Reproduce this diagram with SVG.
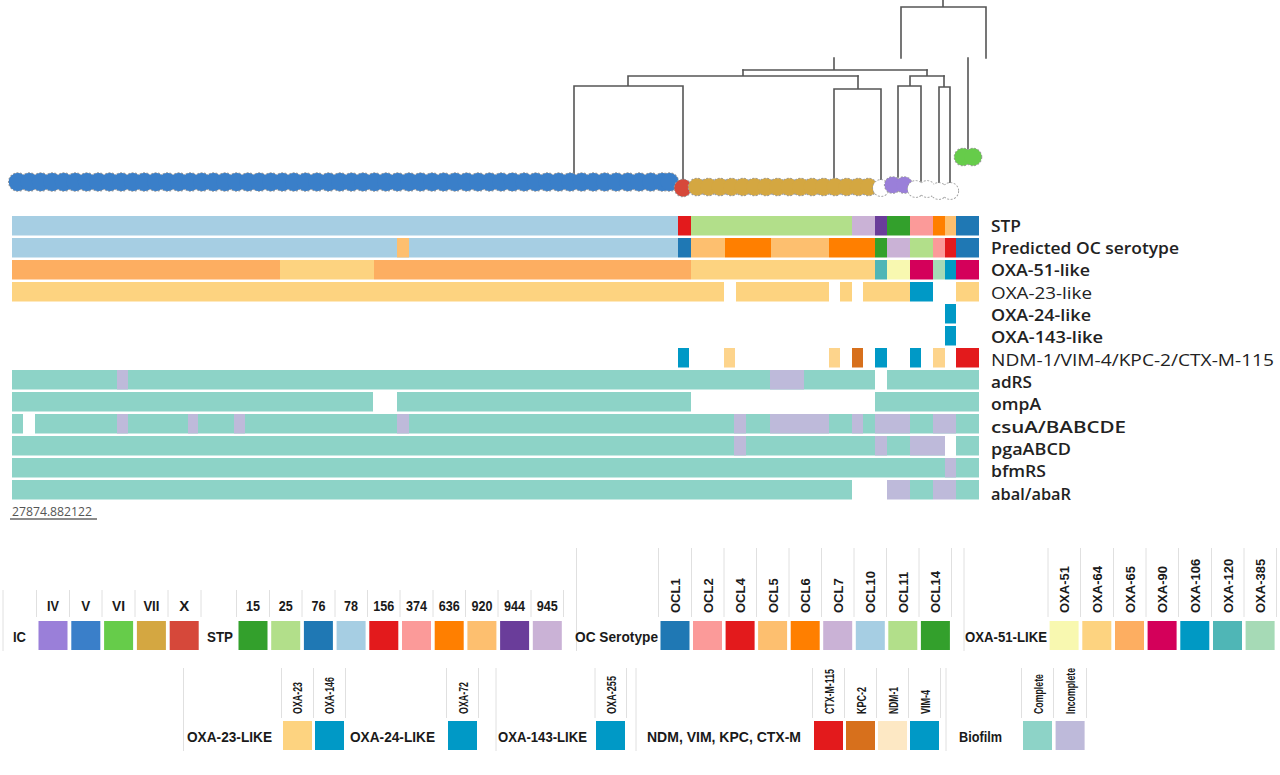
<svg xmlns="http://www.w3.org/2000/svg" width="1280" height="775" viewBox="0 0 1280 775">
<style>
.br{stroke:#555;stroke-width:1.6;fill:none;stroke-linecap:square}
.tipo{stroke:#9c9c9c;stroke-width:1.6;stroke-dasharray:2 1.4}
.lbl{font-family:"Open Sans","Noto Sans",sans-serif;font-size:16px;font-weight:600;fill:#222}
.lbn{font-family:"Open Sans","Noto Sans",sans-serif;font-size:16px;font-weight:400;fill:#222}
.sc{font-family:"Open Sans","Noto Sans",sans-serif;font-size:13px;fill:#555}
.lg{font-family:"Liberation Sans",Arial,sans-serif;font-size:15px;font-weight:bold;fill:#1a1a1a}
.hd{font-family:"Liberation Sans",Arial,sans-serif;font-size:13px;font-weight:bold;fill:#1a1a1a}
.hh{font-family:"Liberation Sans",Arial,sans-serif;font-size:15px;font-weight:bold;fill:#1a1a1a;text-anchor:middle}
.sep{stroke:#e0e0e0;stroke-width:1}
</style>
<defs>
<g id="cBlue">
<circle cx="17.8" cy="182" r="9"/><circle cx="29.3" cy="182" r="9"/><circle cx="40.8" cy="182" r="9"/><circle cx="52.3" cy="182" r="9"/><circle cx="63.8" cy="182" r="9"/><circle cx="75.3" cy="182" r="9"/><circle cx="86.8" cy="182" r="9"/><circle cx="98.3" cy="182" r="9"/><circle cx="109.8" cy="182" r="9"/><circle cx="121.4" cy="182" r="9"/>
<circle cx="132.9" cy="182" r="9"/><circle cx="144.4" cy="182" r="9"/><circle cx="155.9" cy="182" r="9"/><circle cx="167.4" cy="182" r="9"/><circle cx="178.9" cy="182" r="9"/><circle cx="190.4" cy="182" r="9"/><circle cx="201.9" cy="182" r="9"/><circle cx="213.5" cy="182" r="9"/><circle cx="225" cy="182" r="9"/><circle cx="236.5" cy="182" r="9"/>
<circle cx="248" cy="182" r="9"/><circle cx="259.5" cy="182" r="9"/><circle cx="271" cy="182" r="9"/><circle cx="282.5" cy="182" r="9"/><circle cx="294" cy="182" r="9"/><circle cx="305.6" cy="182" r="9"/><circle cx="317.1" cy="182" r="9"/><circle cx="328.6" cy="182" r="9"/><circle cx="340.1" cy="182" r="9"/><circle cx="351.6" cy="182" r="9"/>
<circle cx="363.1" cy="182" r="9"/><circle cx="374.6" cy="182" r="9"/><circle cx="386.1" cy="182" r="9"/><circle cx="397.7" cy="182" r="9"/><circle cx="409.2" cy="182" r="9"/><circle cx="420.7" cy="182" r="9"/><circle cx="432.2" cy="182" r="9"/><circle cx="443.7" cy="182" r="9"/><circle cx="455.2" cy="182" r="9"/><circle cx="466.7" cy="182" r="9"/>
<circle cx="478.2" cy="182" r="9"/><circle cx="489.7" cy="182" r="9"/><circle cx="501.3" cy="182" r="9"/><circle cx="512.8" cy="182" r="9"/><circle cx="524.3" cy="182" r="9"/><circle cx="535.8" cy="182" r="9"/><circle cx="547.3" cy="182" r="9"/><circle cx="558.8" cy="182" r="9"/><circle cx="570.3" cy="182" r="9"/><circle cx="581.8" cy="182" r="9"/>
<circle cx="593.4" cy="182" r="9"/><circle cx="604.9" cy="182" r="9"/><circle cx="616.4" cy="182" r="9"/><circle cx="627.9" cy="182" r="9"/><circle cx="639.4" cy="182" r="9"/><circle cx="650.9" cy="182" r="9"/><circle cx="662.4" cy="182" r="9"/><circle cx="669.5" cy="182" r="9"/>
</g>
<g id="cRed"><circle cx="683" cy="188" r="8.5"/></g>
<g id="cGold">
<circle cx="697" cy="187" r="8.5"/><circle cx="708.5" cy="187" r="8.5"/><circle cx="720" cy="187" r="8.5"/><circle cx="731.5" cy="187" r="8.5"/><circle cx="743" cy="187" r="8.5"/><circle cx="754.6" cy="187" r="8.5"/><circle cx="766.1" cy="187" r="8.5"/><circle cx="777.6" cy="187" r="8.5"/>
<circle cx="789.1" cy="187" r="8.5"/><circle cx="800.6" cy="187" r="8.5"/><circle cx="812.1" cy="187" r="8.5"/><circle cx="823.6" cy="187" r="8.5"/><circle cx="835.1" cy="187" r="8.5"/><circle cx="846.7" cy="187" r="8.5"/><circle cx="858.2" cy="187" r="8.5"/><circle cx="868.5" cy="187" r="8.5"/>
</g>
<g id="cW1"><circle cx="881" cy="188" r="8"/></g>
<g id="cPurple"><circle cx="892.7" cy="185" r="8"/><circle cx="904.2" cy="185" r="8"/></g>
<g id="cW2"><circle cx="915.7" cy="189" r="8"/><circle cx="927.2" cy="189" r="8"/><circle cx="938.7" cy="191" r="8"/><circle cx="950.3" cy="191" r="8"/></g>
<g id="cGreen"><circle cx="963" cy="157" r="8.5"/><circle cx="973" cy="157" r="8.5"/></g>
</defs>

<g id="connectors">
<path class="br" d="M943,0V7 M901,58V7H986V58 M968,58V150"/>
<path class="br" d="M834,58V70 M743,70H927"/>
<path class="br" d="M743,70V76 M628,76H858 M628,76V86 M574,86H683 M574,86V174 M683,86V180"/>
<path class="br" d="M858,76V89 M834,89H881 M834,89V179 M881,89V180"/>
<path class="br" d="M927,70V76 M910,76H944 M910,76V86 M898,86H921 M898,86V177 M921,86V181"/>
<path class="br" d="M944,76V87 M939,87H950 M939,87V183 M950,87V183"/>
</g>

<g id="tips">
<g id="tips-blue"><use href="#cBlue" class="tipo" fill="#3a7fc9"/><use href="#cBlue" fill="#3a7fc9"/></g>
<g id="tips-red"><use href="#cRed" class="tipo" fill="#d6483a"/><use href="#cRed" fill="#d6483a"/></g>
<g id="tips-gold"><use href="#cGold" class="tipo" fill="#d4a741"/><use href="#cGold" fill="#d4a741"/></g>
<g id="tips-none-1"><use href="#cW1" class="tipo" fill="#fff"/><use href="#cW1" fill="#fff"/></g>
<g id="tips-purple"><use href="#cPurple" class="tipo" fill="#9a7fd9"/><use href="#cPurple" fill="#9a7fd9"/></g>
<g id="tips-none-2"><use href="#cW2" class="tipo" fill="#fff"/><use href="#cW2" fill="#fff"/></g>
<g id="tips-green"><use href="#cGreen" class="tipo" fill="#66cc4a"/><use href="#cGreen" fill="#66cc4a"/></g>
</g>

<g id="row-stp">
<rect x="12" y="216" width="666" height="19.5" fill="#a6cee3"/>
<rect x="678" y="216" width="13" height="19.5" fill="#e31a1c"/>
<rect x="691" y="216" width="161" height="19.5" fill="#b2df8a"/>
<rect x="852" y="216" width="23" height="19.5" fill="#cab2d6"/>
<rect x="875" y="216" width="12" height="19.5" fill="#6a3d9a"/>
<rect x="887" y="216" width="23" height="19.5" fill="#33a02c"/>
<rect x="910" y="216" width="23" height="19.5" fill="#fb9a99"/>
<rect x="933" y="216" width="12" height="19.5" fill="#ff7f00"/>
<rect x="945" y="216" width="11" height="19.5" fill="#fdbf6f"/>
<rect x="956" y="216" width="23" height="19.5" fill="#1f78b4"/>
<text class="lbl" x="991" y="231.5" textLength="30" lengthAdjust="spacingAndGlyphs">STP</text>
</g>
<g id="row-oc">
<rect x="12" y="238" width="666" height="19.5" fill="#a6cee3"/>
<rect x="397" y="238" width="12" height="19.5" fill="#fdbf6f"/>
<rect x="678" y="238" width="13" height="19.5" fill="#1f78b4"/>
<rect x="691" y="238" width="34" height="19.5" fill="#fdbf6f"/>
<rect x="725" y="238" width="46" height="19.5" fill="#ff7f00"/>
<rect x="771" y="238" width="58" height="19.5" fill="#fdbf6f"/>
<rect x="829" y="238" width="46" height="19.5" fill="#ff7f00"/>
<rect x="875" y="238" width="12" height="19.5" fill="#33a02c"/>
<rect x="887" y="238" width="23" height="19.5" fill="#cab2d6"/>
<rect x="910" y="238" width="23" height="19.5" fill="#b2df8a"/>
<rect x="933" y="238" width="12" height="19.5" fill="#fb9a99"/>
<rect x="945" y="238" width="11" height="19.5" fill="#e31a1c"/>
<rect x="956" y="238" width="23" height="19.5" fill="#1f78b4"/>
<text class="lbl" x="991" y="253.8" textLength="188" lengthAdjust="spacingAndGlyphs">Predicted OC serotype</text>
</g>
<g id="row-oxa51">
<rect x="12" y="260" width="268" height="19.5" fill="#fdae61"/>
<rect x="280" y="260" width="94" height="19.5" fill="#fdd380"/>
<rect x="374" y="260" width="317" height="19.5" fill="#fdae61"/>
<rect x="691" y="260" width="184" height="19.5" fill="#fdd380"/>
<rect x="875" y="260" width="12" height="19.5" fill="#4fb6b6"/>
<rect x="887" y="260" width="23" height="19.5" fill="#f8f8b0"/>
<rect x="910" y="260" width="23" height="19.5" fill="#d4005a"/>
<rect x="933" y="260" width="12" height="19.5" fill="#a6dab6"/>
<rect x="945" y="260" width="11" height="19.5" fill="#0099c4"/>
<rect x="956" y="260" width="23" height="19.5" fill="#d4005a"/>
<text class="lbl" x="991" y="276.2" textLength="99" lengthAdjust="spacingAndGlyphs">OXA-51-like</text>
</g>
<g id="row-oxa23" fill="#fdd380">
<rect x="12" y="282" width="712" height="19.5"/>
<rect x="736" y="282" width="93" height="19.5"/>
<rect x="840" y="282" width="12" height="19.5"/>
<rect x="863" y="282" width="47" height="19.5"/>
<rect x="910" y="282" width="23" height="19.5" fill="#0099c6"/>
<rect x="956" y="282" width="23" height="19.5"/>
<text class="lbn" x="991" y="298.5" textLength="101" lengthAdjust="spacingAndGlyphs">OXA-23-like</text>
</g>
<g id="row-oxa24">
<rect x="945" y="304" width="11" height="19.5" fill="#0099c6"/>
<text class="lbl" x="991" y="320.8" textLength="100" lengthAdjust="spacingAndGlyphs">OXA-24-like</text>
</g>
<g id="row-oxa143">
<rect x="945" y="326" width="11" height="19.5" fill="#0099c6"/>
<text class="lbl" x="991" y="343.2" textLength="112" lengthAdjust="spacingAndGlyphs">OXA-143-like</text>
</g>
<g id="row-ndm">
<rect x="678" y="348" width="11" height="19.5" fill="#0099c6"/>
<rect x="724" y="348" width="11" height="19.5" fill="#fdd48c"/>
<rect x="829" y="348" width="11" height="19.5" fill="#fdd48c"/>
<rect x="852" y="348" width="11" height="19.5" fill="#d7701c"/>
<rect x="875" y="348" width="12" height="19.5" fill="#0099c6"/>
<rect x="910" y="348" width="11" height="19.5" fill="#0099c6"/>
<rect x="933" y="348" width="12" height="19.5" fill="#fdd48c"/>
<rect x="956" y="348" width="23" height="19.5" fill="#e31a1c"/>
<text class="lbn" x="991" y="365.5" textLength="283" lengthAdjust="spacingAndGlyphs">NDM-1/VIM-4/KPC-2/CTX-M-115</text>
</g>
<g id="row-adrs">
<rect x="12" y="370" width="863" height="19.5" fill="#8dd3c7"/>
<rect x="887" y="370" width="92" height="19.5" fill="#8dd3c7"/>
<rect x="117" y="370" width="11" height="19.5" fill="#bebada"/>
<rect x="770" y="370" width="34" height="19.5" fill="#bebada"/>
<text class="lbl" x="991" y="387.8" textLength="41" lengthAdjust="spacingAndGlyphs">adRS</text>
</g>
<g id="row-ompa" fill="#8dd3c7">
<rect x="12" y="392" width="361" height="19.5"/>
<rect x="397" y="392" width="294" height="19.5"/>
<rect x="875" y="392" width="104" height="19.5"/>
<text class="lbl" x="991" y="410.1" textLength="50" lengthAdjust="spacingAndGlyphs">ompA</text>
</g>
<g id="row-csua">
<rect x="12" y="414" width="11" height="19.5" fill="#8dd3c7"/>
<rect x="35" y="414" width="944" height="19.5" fill="#8dd3c7"/>
<g fill="#bebada">
<rect x="117" y="414" width="11" height="19.5"/>
<rect x="188" y="414" width="10" height="19.5"/>
<rect x="234" y="414" width="11" height="19.5"/>
<rect x="397" y="414" width="12" height="19.5"/>
<rect x="734" y="414" width="12" height="19.5"/>
<rect x="770" y="414" width="59" height="19.5"/>
<rect x="852" y="414" width="11" height="19.5"/>
<rect x="875" y="414" width="35" height="19.5"/>
<rect x="933" y="414" width="23" height="19.5"/>
</g>
<text class="lbl" x="991" y="432.5" textLength="135" lengthAdjust="spacingAndGlyphs">csuA/BABCDE</text>
</g>
<g id="row-pga">
<rect x="12" y="436" width="933" height="19.5" fill="#8dd3c7"/>
<rect x="956" y="436" width="23" height="19.5" fill="#8dd3c7"/>
<g fill="#bebada">
<rect x="734" y="436" width="12" height="19.5"/>
<rect x="875" y="436" width="12" height="19.5"/>
<rect x="910" y="436" width="35" height="19.5"/>
</g>
<text class="lbl" x="991" y="454.8" textLength="80" lengthAdjust="spacingAndGlyphs">pgaABCD</text>
</g>
<g id="row-bfm">
<rect x="12" y="458" width="967" height="19.5" fill="#8dd3c7"/>
<rect x="945" y="458" width="11" height="19.5" fill="#bebada"/>
<text class="lbl" x="991" y="477.1" textLength="55" lengthAdjust="spacingAndGlyphs">bfmRS</text>
</g>
<g id="row-aba">
<rect x="12" y="480" width="840" height="19.5" fill="#8dd3c7"/>
<rect x="887" y="480" width="23" height="19.5" fill="#bebada"/>
<rect x="910" y="480" width="23" height="19.5" fill="#8dd3c7"/>
<rect x="933" y="480" width="23" height="19.5" fill="#bebada"/>
<rect x="956" y="480" width="23" height="19.5" fill="#8dd3c7"/>
<text class="lbl" x="991" y="499.5" textLength="80" lengthAdjust="spacingAndGlyphs">abaI/abaR</text>
</g>

<g id="scale">
<text class="sc" x="12" y="515.5" textLength="80" lengthAdjust="spacingAndGlyphs">27874.882122</text>
<line x1="10" y1="519" x2="97" y2="519" stroke="#666" stroke-width="1.5"/>
</g>

<g id="legend-ic">
<g class="sep"><line x1="3" y1="590" x2="3" y2="651"/><line x1="36.5" y1="590" x2="36.5" y2="617"/><line x1="69.5" y1="590" x2="69.5" y2="617"/><line x1="102" y1="590" x2="102" y2="617"/><line x1="135" y1="590" x2="135" y2="617"/><line x1="168" y1="590" x2="168" y2="617"/><line x1="201" y1="590" x2="201" y2="617"/></g>
<text class="lg" x="13" y="642" textLength="13" lengthAdjust="spacingAndGlyphs">IC</text>
<g class="hh"><text x="53" y="611" textLength="12" lengthAdjust="spacingAndGlyphs">IV</text><text x="85.8" y="611" textLength="9" lengthAdjust="spacingAndGlyphs">V</text><text x="118.6" y="611" textLength="13" lengthAdjust="spacingAndGlyphs">VI</text><text x="151.4" y="611" textLength="16" lengthAdjust="spacingAndGlyphs">VII</text><text x="184.2" y="611" textLength="10" lengthAdjust="spacingAndGlyphs">X</text></g>
<rect x="38.5" y="621" width="29" height="29" fill="#9a7fd9"/>
<rect x="71.3" y="621" width="29" height="29" fill="#3a7fc9"/>
<rect x="104.1" y="621" width="29" height="29" fill="#66cc4a"/>
<rect x="136.9" y="621" width="29" height="29" fill="#d4a741"/>
<rect x="169.7" y="621" width="29" height="29" fill="#d6483a"/>
</g>

<g id="legend-stp">
<g class="sep"><line x1="236.5" y1="590" x2="236.5" y2="617"/><line x1="269.5" y1="590" x2="269.5" y2="617"/><line x1="302" y1="590" x2="302" y2="617"/><line x1="335" y1="590" x2="335" y2="617"/><line x1="367.5" y1="590" x2="367.5" y2="617"/><line x1="400" y1="590" x2="400" y2="617"/><line x1="433" y1="590" x2="433" y2="617"/><line x1="465.5" y1="590" x2="465.5" y2="617"/><line x1="498" y1="590" x2="498" y2="617"/><line x1="531" y1="590" x2="531" y2="617"/><line x1="563.5" y1="590" x2="563.5" y2="617"/></g>
<text class="lg" x="207" y="642" textLength="26" lengthAdjust="spacingAndGlyphs">STP</text>
<g class="hh"><text x="253" y="611" textLength="14" lengthAdjust="spacingAndGlyphs">15</text><text x="285.7" y="611" textLength="14" lengthAdjust="spacingAndGlyphs">25</text><text x="318.4" y="611" textLength="14" lengthAdjust="spacingAndGlyphs">76</text><text x="351.1" y="611" textLength="14" lengthAdjust="spacingAndGlyphs">78</text><text x="383.8" y="611" textLength="21" lengthAdjust="spacingAndGlyphs">156</text><text x="416.5" y="611" textLength="21" lengthAdjust="spacingAndGlyphs">374</text><text x="449.2" y="611" textLength="21" lengthAdjust="spacingAndGlyphs">636</text><text x="481.9" y="611" textLength="21" lengthAdjust="spacingAndGlyphs">920</text><text x="514.6" y="611" textLength="21" lengthAdjust="spacingAndGlyphs">944</text><text x="547.3" y="611" textLength="21" lengthAdjust="spacingAndGlyphs">945</text></g>
<rect x="238.5" y="621" width="29" height="29" fill="#33a02c"/>
<rect x="271.2" y="621" width="29" height="29" fill="#b2df8a"/>
<rect x="303.9" y="621" width="29" height="29" fill="#1f78b4"/>
<rect x="336.6" y="621" width="29" height="29" fill="#a6cee3"/>
<rect x="369.3" y="621" width="29" height="29" fill="#e31a1c"/>
<rect x="402" y="621" width="29" height="29" fill="#fb9a99"/>
<rect x="434.7" y="621" width="29" height="29" fill="#ff7f00"/>
<rect x="467.4" y="621" width="29" height="29" fill="#fdbf6f"/>
<rect x="500.1" y="621" width="29" height="29" fill="#6a3d9a"/>
<rect x="532.8" y="621" width="29" height="29" fill="#cab2d6"/>
</g>

<g id="legend-oc">
<g class="sep"><line x1="576.5" y1="548" x2="576.5" y2="651"/><line x1="658.5" y1="548" x2="658.5" y2="617"/><line x1="691.5" y1="548" x2="691.5" y2="617"/><line x1="724" y1="548" x2="724" y2="617"/><line x1="756.5" y1="548" x2="756.5" y2="617"/><line x1="789" y1="548" x2="789" y2="617"/><line x1="821.5" y1="548" x2="821.5" y2="617"/><line x1="854" y1="548" x2="854" y2="617"/><line x1="886.5" y1="548" x2="886.5" y2="617"/><line x1="919" y1="548" x2="919" y2="617"/><line x1="951.5" y1="548" x2="951.5" y2="617"/></g>
<text class="lg" x="575" y="642" textLength="83" lengthAdjust="spacingAndGlyphs">OC Serotype</text>
<g class="hd">
<text transform="translate(680,613) rotate(-90)">OCL1</text>
<text transform="translate(712.5,613) rotate(-90)">OCL2</text>
<text transform="translate(745.1,613) rotate(-90)">OCL4</text>
<text transform="translate(777.6,613) rotate(-90)">OCL5</text>
<text transform="translate(810.2,613) rotate(-90)">OCL6</text>
<text transform="translate(842.7,613) rotate(-90)">OCL7</text>
<text transform="translate(875.3,613) rotate(-90)">OCL10</text>
<text transform="translate(907.8,613) rotate(-90)">OCL11</text>
<text transform="translate(940.4,613) rotate(-90)">OCL14</text>
</g>
<rect x="660.5" y="621" width="29" height="29" fill="#1f78b4"/>
<rect x="693" y="621" width="29" height="29" fill="#fb9a99"/>
<rect x="725.6" y="621" width="29" height="29" fill="#e31a1c"/>
<rect x="758.1" y="621" width="29" height="29" fill="#fdbf6f"/>
<rect x="790.7" y="621" width="29" height="29" fill="#ff7f00"/>
<rect x="823.2" y="621" width="29" height="29" fill="#cab2d6"/>
<rect x="855.8" y="621" width="29" height="29" fill="#a6cee3"/>
<rect x="888.3" y="621" width="29" height="29" fill="#b2df8a"/>
<rect x="920.9" y="621" width="29" height="29" fill="#33a02c"/>
</g>

<g id="legend-oxa51">
<g class="sep"><line x1="964" y1="548" x2="964" y2="651"/><line x1="1048" y1="548" x2="1048" y2="617"/><line x1="1080.5" y1="548" x2="1080.5" y2="617"/><line x1="1113.5" y1="548" x2="1113.5" y2="617"/><line x1="1146" y1="548" x2="1146" y2="617"/><line x1="1178.5" y1="548" x2="1178.5" y2="617"/><line x1="1211.5" y1="548" x2="1211.5" y2="617"/><line x1="1244" y1="548" x2="1244" y2="617"/><line x1="1276.5" y1="548" x2="1276.5" y2="617"/></g>
<text class="lg" x="965" y="642" textLength="82" lengthAdjust="spacingAndGlyphs">OXA-51-LIKE</text>
<g class="hd">
<text transform="translate(1069.1,613) rotate(-90)">OXA-51</text>
<text transform="translate(1101.8,613) rotate(-90)">OXA-64</text>
<text transform="translate(1134.5,613) rotate(-90)">OXA-65</text>
<text transform="translate(1167.1,613) rotate(-90)">OXA-90</text>
<text transform="translate(1199.8,613) rotate(-90)">OXA-106</text>
<text transform="translate(1232.5,613) rotate(-90)">OXA-120</text>
<text transform="translate(1265.1,613) rotate(-90)">OXA-385</text>
</g>
<rect x="1049.6" y="621" width="29" height="29" fill="#f8f8b0"/>
<rect x="1082.3" y="621" width="29" height="29" fill="#fdd380"/>
<rect x="1115" y="621" width="29" height="29" fill="#fdae61"/>
<rect x="1147.6" y="621" width="29" height="29" fill="#d4005a"/>
<rect x="1180.3" y="621" width="29" height="29" fill="#0099c4"/>
<rect x="1213" y="621" width="29" height="29" fill="#4fb6b6"/>
<rect x="1245.6" y="621" width="29" height="29" fill="#a6dab6"/>
</g>

<g id="legend-oxa23">
<g class="sep"><line x1="183.5" y1="668" x2="183.5" y2="751"/><line x1="281.5" y1="668" x2="281.5" y2="718"/><line x1="313.5" y1="668" x2="313.5" y2="718"/><line x1="345.5" y1="668" x2="345.5" y2="718"/></g>
<text class="lg" x="187" y="742" textLength="85" lengthAdjust="spacingAndGlyphs">OXA-23-LIKE</text>
<g class="hd">
<text transform="translate(302,714) rotate(-90)" textLength="32" lengthAdjust="spacingAndGlyphs">OXA-23</text>
<text transform="translate(334.3,714) rotate(-90)" textLength="37" lengthAdjust="spacingAndGlyphs">OXA-146</text>
</g>
<rect x="283" y="721" width="29" height="29" fill="#fdd380"/>
<rect x="315" y="721" width="29" height="29" fill="#0099c6"/>
</g>
<g id="legend-oxa24">
<g class="sep"><line x1="446.5" y1="668" x2="446.5" y2="718"/><line x1="478.5" y1="668" x2="478.5" y2="718"/></g>
<text class="lg" x="350" y="742" textLength="85" lengthAdjust="spacingAndGlyphs">OXA-24-LIKE</text>
<g class="hd"><text transform="translate(467.5,714) rotate(-90)" textLength="32" lengthAdjust="spacingAndGlyphs">OXA-72</text></g>
<rect x="448" y="721" width="29" height="29" fill="#0099c6"/>
</g>
<g id="legend-oxa143">
<g class="sep"><line x1="496" y1="668" x2="496" y2="751"/><line x1="595" y1="668" x2="595" y2="718"/><line x1="626.5" y1="668" x2="626.5" y2="718"/></g>
<text class="lg" x="498" y="742" textLength="89" lengthAdjust="spacingAndGlyphs">OXA-143-LIKE</text>
<g class="hd"><text transform="translate(615.5,714) rotate(-90)" textLength="38" lengthAdjust="spacingAndGlyphs">OXA-255</text></g>
<rect x="596" y="721" width="29" height="29" fill="#0099c6"/>
</g>
<g id="legend-ndm">
<g class="sep"><line x1="636" y1="668" x2="636" y2="751"/><line x1="812.5" y1="668" x2="812.5" y2="718"/><line x1="844.5" y1="668" x2="844.5" y2="718"/><line x1="876.5" y1="668" x2="876.5" y2="718"/><line x1="908.5" y1="668" x2="908.5" y2="718"/><line x1="940.5" y1="668" x2="940.5" y2="718"/></g>
<text class="lg" x="647" y="742" textLength="154" lengthAdjust="spacingAndGlyphs">NDM, VIM, KPC, CTX-M</text>
<g class="hd">
<text transform="translate(833.5,714) rotate(-90)" textLength="45" lengthAdjust="spacingAndGlyphs">CTX-M-115</text>
<text transform="translate(865.5,714) rotate(-90)" textLength="27" lengthAdjust="spacingAndGlyphs">KPC-2</text>
<text transform="translate(897.5,714) rotate(-90)" textLength="27" lengthAdjust="spacingAndGlyphs">NDM-1</text>
<text transform="translate(929.5,714) rotate(-90)" textLength="24" lengthAdjust="spacingAndGlyphs">VIM-4</text>
</g>
<rect x="814" y="721" width="29" height="29" fill="#e31a1c"/>
<rect x="846" y="721" width="29" height="29" fill="#d7701c"/>
<rect x="878" y="721" width="29" height="29" fill="#fde8c4"/>
<rect x="910" y="721" width="29" height="29" fill="#0099c6"/>
</g>
<g id="legend-biofilm">
<g class="sep"><line x1="946" y1="668" x2="946" y2="751"/><line x1="1021.5" y1="668" x2="1021.5" y2="718"/><line x1="1053.5" y1="668" x2="1053.5" y2="718"/><line x1="1086.5" y1="668" x2="1086.5" y2="718"/></g>
<text class="lg" x="959" y="742" textLength="43" lengthAdjust="spacingAndGlyphs">Biofilm</text>
<g class="hd">
<text transform="translate(1042.5,714) rotate(-90)" textLength="40" lengthAdjust="spacingAndGlyphs">Complete</text>
<text transform="translate(1075.3,714) rotate(-90)" textLength="46" lengthAdjust="spacingAndGlyphs">Incomplete</text>
</g>
<rect x="1023" y="721" width="29" height="29" fill="#8dd3c7"/>
<rect x="1055.6" y="721" width="29" height="29" fill="#bebada"/>
</g>
</svg>
